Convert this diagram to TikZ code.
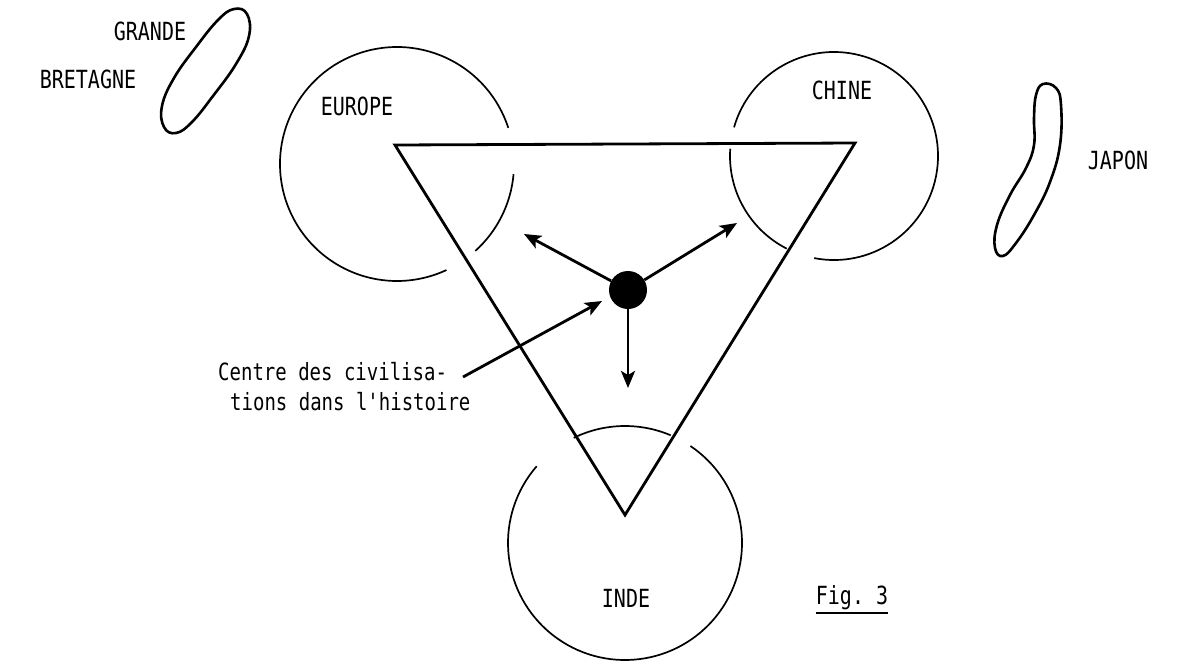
\documentclass[tikz,border=0pt]{standalone}
\usepackage{fontspec}
\setmonofont{DejaVu Sans Mono}
\usetikzlibrary{arrows.meta}
\newcommand{\tallt}[1]{\scalebox{1}[1.25]{#1}}
\begin{document}
\begin{tikzpicture}[x=1pt,y=1pt,
  lbl/.style={font=\ttfamily\fontsize{20}{24}\selectfont, inner sep=0pt},
  captxt/.style={font=\ttfamily\fontsize{19}{23}\selectfont, inner sep=0pt, anchor=base west},
  circ/.style={line width=1.7pt},
  tri/.style={line width=2.8pt, line join=miter},
  isl/.style={line width=2.6pt},
  arr/.style={line width=2.8pt, -{Stealth[length=17pt,width=14pt,inset=4pt]}}]
\useasboundingbox (0,-662) rectangle (1192,0);
% circle centres
\coordinate (E) at (397,-164);
\coordinate (C) at (834,-156);
\coordinate (I) at (625,-543);
% triangle vertices
\coordinate (A) at (395,-145);
\coordinate (B) at (855,-143);
\coordinate (V) at (625,-515);
% circles (broken arcs)
\draw[circ] ([shift={(18:117)}]E) arc[start angle=18, end angle=295, radius=117];
\draw[circ] ([shift={(-48:117)}]E) arc[start angle=-48, end angle=-5, radius=117];
\draw[circ] ([shift={(176:104)}]C) arc[start angle=176, end angle=243, radius=104];
\draw[circ] ([shift={(259:104)}]C) arc[start angle=259, end angle=524, radius=104];
\draw[circ] ([shift={(139:117)}]I) arc[start angle=139, end angle=416, radius=117];
\draw[circ] ([shift={(67:117)}]I) arc[start angle=67, end angle=116, radius=117];
% triangle
\draw[tri] (A) -- (B) -- (V) -- cycle;
% islands
\draw[isl] plot[smooth cycle, tension=0.7] coordinates {(234,-9) (247,-14) (249,-36) (236,-64) (213,-96) (192,-122) (176,-133) (164,-127) (162,-106) (174,-78) (196,-47) (218,-20)};
\draw[isl] plot[smooth cycle, tension=0.7] coordinates {(1043,-84) (1056,-88) (1061,-105) (1060,-145) (1050,-182) (1034,-215) (1016,-243) (1003,-256) (995,-248) (997,-225) (1010,-195) (1026,-168) (1034,-145) (1034,-118) (1036,-95)};
% labels
\node[lbl] (gb1) at (150,-31) {\tallt{GRANDE}};
\node[lbl] (gb2) at (88,-79) {\tallt{BRETAGNE}};
\node[lbl] (eu) at (357,-106) {\tallt{EUROPE}};
\node[lbl] (ch) at (842,-90) {\tallt{CHINE}};
\node[lbl] (jp) at (1118,-160) {\tallt{JAPON}};
\node[lbl] (in) at (626,-598) {\tallt{INDE}};
\node[lbl] (fig) at (852,-598) {\tallt{Fig. 3}};
\draw[line width=1.4pt] ([yshift=-8pt]fig.base west) -- ([yshift=-8pt]fig.base east);
% centre
\node[circle, fill=black, minimum size=38pt, inner sep=0pt] (dot) at (628,-290) {};
\coordinate (ul) at (524,-234);
\coordinate (ur) at (737,-223);
\coordinate (dn) at (628,-388);
\draw[arr] (dot) -- (ul);
\draw[arr] (dot) -- (ur);
\draw[arr] (dot) -- (dn);
% caption
\node[captxt] (c1) at (218,-380) {\tallt{Centre des civilisa-}};
\node[captxt] (c2) at (230,-410) {\tallt{tions dans l'histoire}};
\coordinate (ls) at (463,-377);
\coordinate (lt) at (602,-301);
\draw[arr] (ls) -- (lt);
\end{tikzpicture}
\end{document}
